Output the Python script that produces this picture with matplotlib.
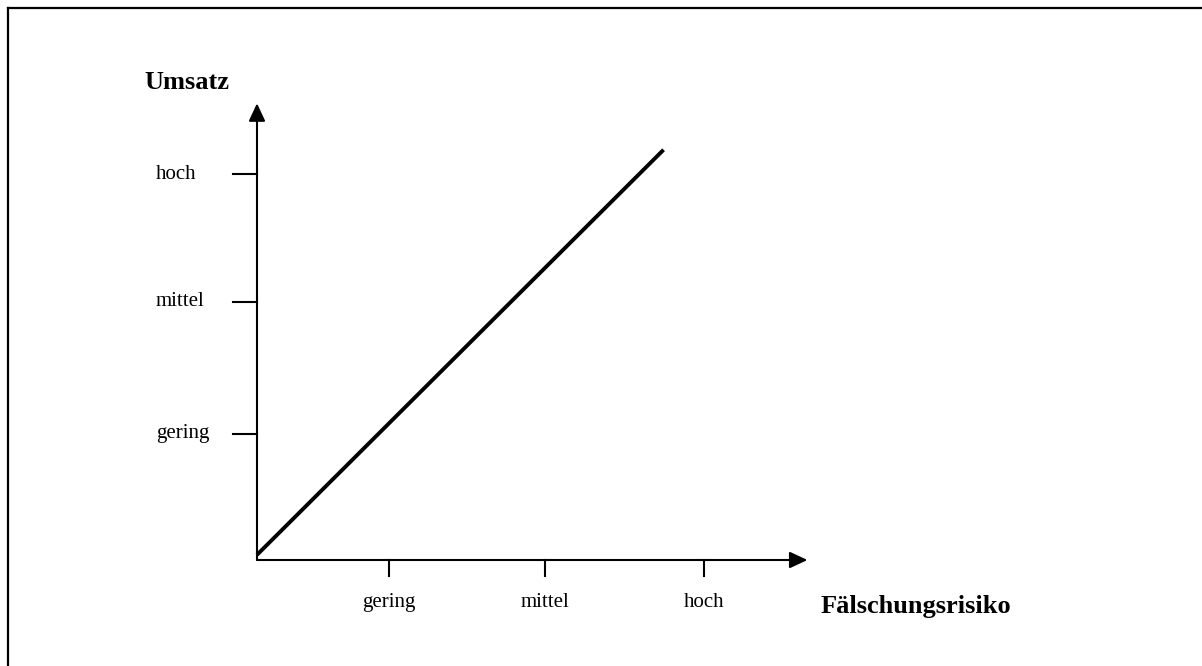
"""
Umsatz vs. Fälschungsrisiko - schematic diagram
"""

import matplotlib
matplotlib.use("Agg")
import matplotlib.pyplot as plt
from matplotlib.lines import Line2D

# categories on both axes
x_labels = ["gering", "mittel", "hoch"]
y_labels = ["gering", "mittel", "hoch"]

# tick positions (in axis units, origin = 0)
x_ticks = [1.0, 2.18, 3.39]
y_ticks = [0.98, 2.0, 2.99]

# the straight trend line
line_x = [0.0, 3.08]
line_y = [0.04, 3.18]

# axis extents (arrow tips)
x_axis_end = 4.17
y_axis_end = 3.54

plt.rcParams["font.family"] = ["Liberation Serif", "DejaVu Serif"]

fig = plt.figure(figsize=(12.02, 6.66), dpi=100)
ax = fig.add_axes([0, 0, 1, 1])
# origin sits at pixel (257, 560); 132 px per x unit, 129 px per y unit
ax.set_xlim(-257 / 132, (1202 - 257) / 132)
ax.set_ylim(-(666 - 560) / 129, 560 / 129)
ax.axis("off")

# frame (only top and left edges are visible in the original)
fig.add_artist(Line2D([8 / 1202, 8 / 1202], [0, 1 - 8 / 666],
                      transform=fig.transFigure, color="black", lw=1.6))
fig.add_artist(Line2D([8 / 1202, 1], [1 - 8 / 666, 1 - 8 / 666],
                      transform=fig.transFigure, color="black", lw=1.6))

arrow = dict(arrowstyle="-|>,head_length=0.6,head_width=0.28",
             mutation_scale=18, color="black", lw=1.5, shrinkA=0, shrinkB=0)
ax.annotate("", xy=(x_axis_end, 0), xytext=(0, 0), arrowprops=arrow)
ax.annotate("", xy=(0, y_axis_end), xytext=(0, 0), arrowprops=arrow)

# x ticks and labels
for xt, lab in zip(x_ticks, x_labels):
    ax.plot([xt, xt], [0, -0.124], color="black", lw=1.5)
    ax.text(xt, -0.364, lab, ha="center", va="baseline", fontsize=15)

# y ticks and labels
for yt, lab in zip(y_ticks, y_labels):
    ax.plot([-0.182, 0], [yt, yt], color="black", lw=1.5)
    ax.text(-0.765, yt - 0.033, lab, ha="left", va="baseline", fontsize=15)

# trend line
ax.plot(line_x, line_y, color="black", lw=2.8, solid_capstyle="butt")

# axis titles
ax.text(-0.85, (560 - 89) / 129, "Umsatz", ha="left", va="baseline",
        fontsize=19, fontweight="bold")
ax.text((821 - 257) / 132, (560 - 613) / 129, "Fälschungsrisiko", ha="left",
        va="baseline", fontsize=19, fontweight="bold")

fig.savefig("out.png", dpi=100)
plt.close(fig)
